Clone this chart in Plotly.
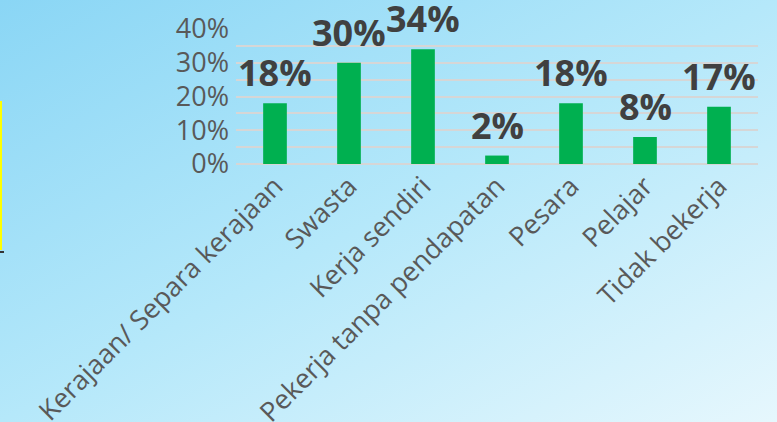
import base64
import plotly.graph_objects as go

categories = ["Kerajaan/ Separa kerajaan", "Swasta", "Kerja sendiri",
              "Pekerja tanpa pendapatan", "Pesara", "Pelajar", "Tidak bekerja"]
values = [0.18, 0.30, 0.34, 0.025, 0.18, 0.08, 0.17]
labels = ["18%", "30%", "34%", "2%", "18%", "8%", "17%"]
ytick_vals = [0, 0.1, 0.2, 0.3, 0.4]
ytick_text = ["0%", "10%", "20%", "30%", "40%"]

W, H = 777, 422
L, R, T, B = 236, 19, 29, 258
PW, PH = W - L - R, H - T - B

svg = f'''<svg xmlns="http://www.w3.org/2000/svg" width="{W}" height="{H}">
<defs><linearGradient id="g" x1="0" y1="0" x2="1" y2="1">
<stop offset="0" stop-color="#8ad6f5"/>
<stop offset="0.5" stop-color="#b5e8fa"/>
<stop offset="1" stop-color="#e6f7fd"/>
</linearGradient></defs>
<rect width="{W}" height="{H}" fill="url(#g)"/></svg>'''
bg = "data:image/svg+xml;base64," + base64.b64encode(svg.encode()).decode()

def px(x):
    return (x - L) / PW

def py(y):
    return (H - B - y) / PH

fig = go.Figure()
fig.add_trace(go.Bar(x=categories, y=values, marker_color="#00b050",
                     marker_line_width=0, cliponaxis=False))

for c, v, t in zip(categories, values, labels):
    fig.add_annotation(x=c, y=v, text=f"<b>{t}</b>", showarrow=False,
                       yanchor="bottom", yshift=4,
                       font=dict(family="Open Sans", size=36, color="#404040"))

fig.add_layout_image(source=bg, xref="paper", yref="paper",
                     x=px(0), y=py(0), sizex=W / PW, sizey=H / PH,
                     xanchor="left", yanchor="top", sizing="stretch",
                     layer="below")

# decorative fragments at left edge
fig.add_shape(type="line", xref="paper", yref="paper",
              x0=px(1), x1=px(1), y0=py(101), y1=py(250),
              line=dict(color="#ffff00", width=2))
fig.add_shape(type="line", xref="paper", yref="paper",
              x0=px(0), x1=px(4), y0=py(252), y1=py(252),
              line=dict(color="#333333", width=2))

fig.update_layout(
    width=W, height=H,
    margin=dict(l=L, r=R, t=T, b=B, pad=0, autoexpand=False),
    paper_bgcolor="#b5e8fa", plot_bgcolor="rgba(0,0,0,0)",
    bargap=0.68, showlegend=False,
    xaxis=dict(tickangle=-45, showgrid=False, showline=False, ticks="",
               automargin=False, ticklabelstandoff=0,
               tickfont=dict(family="Open Sans", size=27, color="#595959")),
    yaxis=dict(range=[0, 0.4], tickvals=ytick_vals, ticktext=ytick_text,
               automargin=False,
               showgrid=True, gridcolor="#d6d6d6", gridwidth=2,
               zeroline=True, zerolinecolor="#d6d6d6", zerolinewidth=2,
               minor=dict(dtick=0.05, showgrid=True, gridcolor="#d6d6d6", gridwidth=2),
               ticks="", ticklabelstandoff=6,
               tickfont=dict(family="Open Sans", size=27, color="#595959")),
)
fig.write_html("out.html", config={"displayModeBar": False},
               post_script="document.body.style.margin='0';document.body.style.overflow='hidden';")
